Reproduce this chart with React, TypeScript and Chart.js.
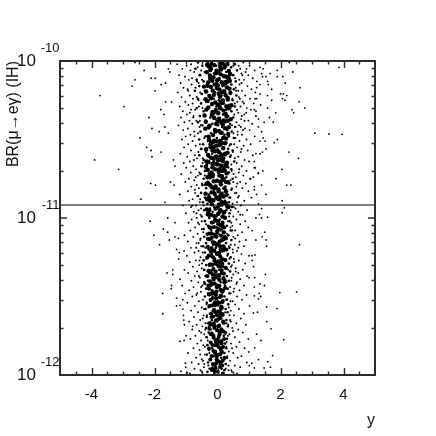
import React, { useEffect, useRef } from "react";
import { Chart, registerables } from "chart.js";

Chart.register(...registerables);

// Flat pairs: rapidity y, then decade offset d, where BR = 10^-(10 + d)
const sparseLeft = [-3.73,.22,-2.97,.29,-2.71,.16,-2.62,.12,-2.33,.06,-2.62,.01,-2.11,.11,-1.98,.11,-1.98,.19,-1.79,.15,-1.65,.14,-1.56,.05,-1.51,.07,-3.9,.63,-3.14,.69,-2.46,.49,-2.18,.36,-2.08,.43,-1.85,.45,-1.8,.31,-1.7,.34,-1.65,.26,-1.46,.26,-1.56,.46,-1.67,.42,-2.25,.55,-2.11,.57,-2.08,.61,-1.79,.58,-2.12,.78,-1.97,.79,-2.43,.88,-1.67,.9,-1.49,.77,-1.38,.79,-1.4,.63,-1.35,.67,-2.14,1.02,-1.72,1.07,-1.35,1.03,-1.58,1,-1.1,.92,-2.02,1.11,-1.84,1.17,-1.58,1.09,-1.53,1.14,-1.35,1.12,-1.24,1.13,-1.3,1.2,-1.21,1.22,-1.23,1.26,-1.06,1.21,-1.6,1.35,-1.42,1.33,-1.42,1.36,-1.05,1.33,-1.19,1.39,-1.46,1.43,-1.47,1.45,-1.74,1.48,-1.74,1.61,-1.3,1.51,-1.12,1.43,-1.03,1.48,-1.1,1.52,-1.3,1.56,-1.19,1.556,-1.1,1.58,-1.08,1.62,-1.07,1.65,-1.05,1.68,-.79,1.69,-1,1.75,-1.19,1.785,-1.06,1.78,-1.02,1.925,-1.01,1.95,-1.16,1.976,-.96,1.985];
const sparseRight = [3.86,.04,2.28,.01,2.39,.07,1.9,.06,2.07,.1,1.9,.1,2.15,.14,2.62,.17,2,.21,2.09,.21,2.2,.22,2.06,.24,2.14,.25,2.59,.26,2.77,.3,2.37,.31,2.42,.33,1.85,.33,1.59,.22,1.72,.25,1.59,.3,1.65,.36,1.77,.39,3.09,.46,3.54,.465,3.96,.467,1.9,.5,1.8,.52,2.27,.58,2.57,.62,2.05,.69,1.86,.75,1.44,.7,1.29,.715,2.2,.79,2.33,.79,1.54,.85,2.05,.89,2.12,.935,2.05,.966,1.59,.995,1.4,.94,1.4,1,1.22,1,1.33,.977,1.3,.91,1.24,.85,1.17,.82,1.17,.8,1.4,.79,1.35,.04,1.45,.05,1.4,.08,1.54,.1,1.43,.1,1.67,.08,1.59,.13,1.61,.15,1.35,.15,1.24,.17,1.72,.18,1.35,.21,1.24,.24,1.19,.24,1.37,.28,1.17,.31,1.22,.32,1.3,.37,1.48,.39,1.3,.42,1.4,.45,1.45,.49,1.35,.51,1.51,.51,1.54,.56,1.43,.58,1.22,.59,1.35,.59,1.17,.64,1.17,.68,1.3,.715,1.14,.74,1.03,.75,2.6,1.17,1.52,1.36,1,1.38,1.18,1.38,1.35,1.42,1.49,1.43,1.98,1.475,2.51,1.47,1.17,1.44,1.32,1.48,1.37,1.5,1.3,1.515,1.17,1.496,1.56,1.566,1.89,1.577,1.27,1.6,1.14,1.605,1.56,1.66,1.7,1.706,2.1,1.775,1.38,1.78,1.24,1.74,1.18,1.827,.99,1.853,1.75,1.876,1.3,1.902,1.6,1.915,1.09,1.925,1.01,1.94,1.17,1.955,1.48,1.955,1.68,1.95,1.19,1.235,1.1,1.24,1.1,1.27,1.14,1.31,1.56,1.18,1.54,1.14,1.42,1.12,1.5,1.09,1.22,1.14,1.1,1.08];
const midUpperLeft = [-1.28,.02,-1.12,.05,-.98,.03,-.86,.06,-1.22,.09,-1.03,.1,-.91,.12,-1.17,.14,-.82,.15,-1.08,.17,-.95,.18,-1.26,.2,-.88,.22,-1.14,.23,-.78,.24,-1.02,.26,-.92,.28,-1.2,.29,-.84,.31,-1.1,.32,-.97,.34,-.76,.35,-1.16,.36,-.89,.38,-1.05,.39,-.8,.4,-1.24,.41,-.94,.43,-1.09,.44,-.74,.45,-.86,.47,-1.01,.48,-1.13,.5,-.79,.51,-.93,.53,-.69,.54,-1.06,.55,-.84,.57,-1.18,.59,-.72,.6,-.96,.61,-.65,.62,-.88,.64,-1.07,.65,-.77,.67,-.99,.68,-.68,.69,-.85,.71,-1.15,.72,-.62,.73,-.91,.75,-.74,.76,-1.02,.77,-.66,.79,-.83,.8,-.59,.81,-.94,.83,-.71,.84,-1.2,.85,-.61,.86,-.79,.88,-.9,.89,-.56,.9,-.68,.92,-.84,.93,-.6,.95,-.75,.96,-1,.97,-.54,.98,-.66,1,-.82,1.01,-.92,1.03,-.58,1.04,-.71,1.06,-.5,1.07,-.86,1.08,-.63,1.1,-1.05,1.11,-.77,1.12,-.55,1.14,-.94,1.15,-.67,1.16,-.52,1.18,-.84,1.19,-.6,1.21,-.73,1.22,-.97,1.24,-.54,1.25,-.69,1.27,-.88,1.28,-.58,1.3,-.78,1.31,-.5,1.32,-.65,1.34,-.93,1.35,-.72,1.37,-.56,1.38,-.83,1.4,-.61,1.41,-.48,1.43,-.76,1.44,-.9,1.46,-.53,1.47,-.67,1.49,-.8,1.5,-.46,1.52,-.59,1.53,-.96,1.54,-.72,1.56,-.5,1.57,-.84,1.59,-.62,1.6,-.44,1.62,-.75,1.63,-.55,1.65,-.9,1.66,-.66,1.68,-.48,1.69,-.8,1.71,-.58,1.72,-.42,1.74,-.7,1.75,-.86,1.77,-.52,1.78,-.64,1.8,-.45,1.81,-.76,1.83,-.57,1.84,-.94,1.86,-.4,1.87,-.68,1.89,-.5,1.9,-.82,1.92,-.6,1.93,-.43,1.95,-.73,1.96,-.54,1.97,-.88,1.99];
const midUpperRight = [.82,.01,1.02,.03,.92,.05,1.18,.06,.76,.08,.98,.09,1.12,.11,.84,.12,1.25,.13,.7,.15,.95,.16,1.08,.18,.78,.19,1.2,.2,.88,.22,.68,.23,1.03,.24,.8,.26,1.15,.27,.73,.29,.93,.3,1.06,.31,.66,.33,.85,.34,1.22,.35,.75,.37,.98,.38,1.1,.4,.69,.41,.87,.43,1.02,.44,.64,.45,.78,.47,1.18,.48,.92,.5,.7,.51,1.05,.53,.83,.54,.62,.55,.96,.57,.74,.58,1.12,.6,.66,.61,.86,.63,1,.64,.61,.65,.77,.67,1.2,.68,.92,.7,.68,.71,.82,.73,.58,.74,1.05,.75,.72,.77,.9,.78,.6,.8,.79,.81,.98,.83,.55,.84,.68,.86,1.08,.87,.85,.89,.62,.9,.74,.92,.52,.93,.94,.95,.66,.96,.8,.98,.5,.99,.6,1.01,.88,1.02,.72,1.04,.47,1.05,.98,1.06,.56,1.08,.78,1.09,.64,1.11,.5,1.12,.9,1.14,.7,1.15,.55,1.17,.84,1.18,.48,1.2,.62,1.21,.76,1.23,1,1.24,.52,1.26,.68,1.27,.88,1.29,.46,1.3,.58,1.32,.8,1.33,.66,1.35,.5,1.36,.94,1.37,.72,1.39,.44,1.4,.6,1.42,.84,1.43,.53,1.45,.7,1.46,.42,1.48,.92,1.49,.62,1.5,.78,1.52,.48,1.53,.56,1.55,1.02,1.56,.68,1.58,.42,1.59,.84,1.61,.52,1.62,.74,1.64,.4,1.65,.6,1.67,.9,1.68,.47,1.7,.66,1.71,.8,1.73,.38,1.74,.55,1.76,.98,1.77,.7,1.79,.43,1.8,.6,1.82,.86,1.83,.36,1.85,.5,1.86,.76,1.88,.64,1.89,.4,1.91,.93,1.92,.55,1.94,.72,1.95,.35,1.97,.46,1.98,.62,1.99];
const midExtra = [-.74,.07,-.66,.23,-.81,.11,-.59,.29,-.77,.36,-.63,.04,-.7,.17,-.88,.33,-.57,.42,-.73,.48,-.6,.14,-.84,.02,-.67,.38,-.79,.27,-.55,.2,-.62,.46,-.71,.31,-.58,.09,-.93,.19,-.65,.13,.72,.05,.66,.19,.79,.09,.62,.31,.74,.42,.69,.12,.84,.27,.6,.39,.77,.35,.64,.47,.71,.24,.89,.07,.58,.17,.67,.03,.81,.44,.63,.26,.91,.33,.57,.49,.76,.14,.86,.38,-.61,.58,-.53,.67,-.69,.74,-.56,.53,-.75,.63,-.49,.78,-.64,.86,-.52,.94,-.58,.71,-.8,.92,-.47,.62,-.67,.97,-.5,.56,-.72,.82,-.55,.88,.55,.62,.51,.72,.63,.78,.49,.58,.69,.69,.57,.94,.46,.81,.65,.87,.53,.53,.72,.98,.48,.91,.6,.84,.44,.66,.76,.56,.5,.77,-.54,1.13,-.47,1.22,-.62,1.03,-.49,1.29,-.59,1.37,-.45,1.09,-.68,1.19,-.52,1.44,-.44,1.33,-.57,1.27,-.42,1.42,-.64,1.48,-.5,1.02,-.6,1.16,.47,1.08,.42,1.17,.53,1.28,.44,1.03,.58,1.34,.4,1.44,.49,1.22,.56,1.13,.43,1.31,.62,1.41,.38,1.26,.51,1.47,.45,1.38,.66,1.19,.41,1.06,-.43,1.58,-.38,1.67,-.52,1.73,-.4,1.82,-.47,1.64,-.36,1.76,-.55,1.87,-.42,1.93,-.35,1.55,-.5,1.98,-.39,1.71,-.46,1.91,.36,1.57,.42,1.66,.33,1.75,.46,1.83,.38,1.62,.31,1.88,.49,1.72,.35,1.94,.41,1.53,.29,1.79,.44,1.97,.34,1.68];
const fringe = [-.52,.06,-.46,.16,-.6,.25,-.44,.34,-.53,.41,-.49,.12,.5,.03,.56,.11,.47,.24,.53,.34,.46,.41,.59,.19,-.42,.49,-.39,.57,-.47,.65,-.4,.73,-.37,.84,-.44,.92,.38,.54,.43,.6,.35,.68,.41,.76,.37,.87,.42,.95,-.36,1.04,-.33,1.11,-.39,1.19,-.35,1.26,-.32,1.34,-.38,1.42,.33,1.02,.3,1.1,.36,1.18,.31,1.24,.34,1.33,.29,1.41,-.31,1.49,-.29,1.57,-.34,1.62,-.28,1.69,-.31,1.78,-.26,1.86,.27,1.52,.24,1.6,.29,1.67,.25,1.74,.28,1.82,.23,1.9,-.29,1.94,.26,1.96,-.33,1.13,.37,.99,-.41,.79,.45,.7,-.48,.3,.51,.46,-.56,.38,.55,.27];
const coreUpper = [-.62,.01,-.31,.01,.12,.02,.55,.02,-.05,.03,.34,.01,-.48,.03,.22,.04,-.18,.05,.43,.04,.03,.06,-.7,.05,.62,.06,-.4,.07,.28,.07,-.11,.08,.15,.09,-.55,.09,.5,.09,-.26,.1,.37,.11,.06,.11,-.66,.12,-.14,.12,.24,.13,-.44,.13,.58,.13,-.02,.14,.44,.15,-.33,.15,.16,.16,-.58,.16,.32,.17,-.2,.17,.07,.18,.52,.18,-.72,.19,-.4,.19,.24,.2,-.08,.2,.41,.21,-.5,.21,.13,.22,-.27,.22,.6,.22,-.62,.24,.3,.24,-.12,.24,.04,.25,.48,.25,-.36,.26,.2,.27,-.52,.27,-.19,.28,.37,.28,-.04,.29,.55,.29,.12,.3,-.66,.3,-.3,.3,.27,.31,-.44,.32,.44,.32,.05,.33,-.14,.33,.18,.34,-.56,.35,.34,.35,-.23,.36,.5,.36,-.06,.37,.1,.38,-.38,.38,.25,.39,-.62,.39,.4,.4,-.16,.4,.02,.41,-.48,.41,.15,.42,.56,.42,-.29,.43,.31,.44,-.09,.44,-.54,.45,.45,.45,.08,.46,-.2,.46,.22,.47,-.38,.48,.36,.48,-.02,.49,.52,.49,-.58,.5,.14,.5,-.3,.51,.28,.52,-.12,.52,.42,.53,-.46,.53,.04,.54,-.24,.55,.2,.55,-.52,.56,.34,.56,-.07,.57,.48,.57,-.36,.58,.11,.59,-.17,.59,.26,.6,-.58,.6,.4,.61,-.28,.61,.01,.62,-.44,.63,.17,.63,.53,.64,-.12,.64,.32,.65,-.34,.66,.07,.66,-.5,.67,.24,.67,-.2,.68,.44,.69,-.03,.69,-.4,.7,.14,.7,.36,.71,-.26,.72,-.54,.72,.05,.73,.28,.74,-.14,.74,.48,.75,-.44,.75,.19,.76,-.31,.77,-.06,.77,.38,.78,.1,.79,-.48,.79,-.22,.8,.25,.8,-.36,.81,.44,.82,.01,.82,-.12,.83,.16,.84,-.52,.84,.32,.85,-.28,.85,-.04,.86,.4,.87,-.4,.87,.09,.88,-.18,.88,.24,.89,-.46,.9,.36,.9,.02,.91,-.32,.91,.15,.92,-.1,.93,.46,.93,-.24,.94,.28,.95,-.42,.95,.06,.96,-.15,.96,.38,.97,-.34,.98,.18,.98,-.03,.99,-.5,.99];
const coreLower = [.24,1,-.26,1,.07,1.01,.38,1.02,-.4,1.02,-.12,1.03,.15,1.04,-.3,1.05,.3,1.05,-.02,1.06,-.44,1.07,.1,1.07,.42,1.08,-.2,1.08,.22,1.09,-.34,1.1,.03,1.1,.34,1.11,-.1,1.12,-.42,1.12,.16,1.13,-.24,1.14,.44,1.14,.06,1.15,-.36,1.16,.27,1.16,-.14,1.17,.12,1.18,-.46,1.18,.38,1.19,-.05,1.19,-.28,1.2,.2,1.21,.01,1.22,-.4,1.22,.33,1.23,-.18,1.23,.09,1.24,.42,1.25,-.32,1.25,-.08,1.26,.24,1.27,-.44,1.27,.14,1.28,-.22,1.29,.36,1.29,-.01,1.3,-.36,1.3,.18,1.31,-.13,1.32,.28,1.32,-.42,1.33,.05,1.33,.4,1.34,-.26,1.35,.12,1.35,-.06,1.36,.3,1.37,-.38,1.37,.2,1.38,-.16,1.38,.02,1.39,-.3,1.4,.36,1.4,.1,1.41,-.42,1.41,-.1,1.42,.24,1.43,-.24,1.43,.03,1.44,.32,1.45,-.36,1.45,.15,1.46,-.17,1.46,-.03,1.47,.38,1.48,-.3,1.48,.08,1.49,.22,1.5,-.4,1.5,-.12,1.51,.3,1.52,-.22,1.52,.01,1.53,-.34,1.54,.16,1.54,.34,1.55,-.07,1.56,-.28,1.56,.1,1.57,.26,1.58,-.38,1.58,-.15,1.59,.04,1.6,.32,1.6,-.24,1.61,.18,1.62,-.05,1.62,-.34,1.63,.12,1.64,.28,1.65,-.18,1.65,-.01,1.66,-.3,1.67,.22,1.67,.06,1.68,-.12,1.69,.33,1.69,-.36,1.7,.15,1.71,-.22,1.71,-.03,1.72,.27,1.73,-.28,1.73,.09,1.74,-.14,1.75,.2,1.75,-.34,1.76,.02,1.77,.3,1.77,-.08,1.78,-.24,1.79,.13,1.79,.24,1.8,-.32,1.81,-.01,1.81,.06,1.82,-.17,1.83,.28,1.83,-.27,1.84,.16,1.85,-.05,1.85,.22,1.86,-.34,1.87,.03,1.87,-.12,1.88,.11,1.89,.3,1.89,-.22,1.9,-.02,1.91,.18,1.91,-.3,1.92,.07,1.93,.26,1.93,-.14,1.94,-.06,1.95,.13,1.96,-.25,1.96,.22,1.97,.01,1.98,-.32,1.98,-.1,1.99,.16,1.99];
const denseTop = [.09,.037,-.23,.113,.31,.021,-.07,.264,.18,.152,-.34,.071,.02,.333,.26,.218,-.15,.189,.39,.127,-.29,.296,.11,.054,-.02,.172,.33,.381,-.19,.018,.21,.097,-.38,.243,.05,.446,-.11,.361,.28,.288,.14,.135,-.25,.412,.36,.063,-.06,.079,.19,.316,-.32,.158,.08,.228,-.17,.274,.41,.203,.24,.428,-.01,.122,-.41,.347,.12,.392,-.22,.045,.3,.169,.04,.209,-.13,.103,.37,.301,-.28,.482,.17,.251,-.08,.439,.23,.029,.01,.276,-.36,.194,.29,.354,-.2,.238,.1,.085,-.04,.401,.34,.465,-.16,.325,.16,.011,-.3,.137,.06,.182,.42,.371,-.24,.092,.25,.142,-.1,.026,.13,.457,-.35,.309,.03,.117,.32,.234,-.12,.216,.2,.378,-.27,.419,.07,.293,-.03,.061,.38,.177,-.18,.342,.15,.199,-.33,.024,.27,.494,.0,.386,-.21,.166,.35,.108,.11,.259,-.09,.149,-.39,.431,.22,.041,.44,.282,-.26,.223,.05,.367,.31,.131,-.14,.472,.17,.405,-.05,.312,.4,.083,-.31,.255,.09,.011,.26,.337,-.23,.058,.01,.154,.36,.422,-.17,.126,.14,.268,-.43,.163,.21,.193,-.07,.449,.33,.246,-.37,.387,.03,.073,.19,.488,-.12,.329,.29,.1,-.28,.033,.08,.302];
const denseUpperMid = [-.03,.512,.17,.637,-.22,.548,.09,.771,-.31,.693,.24,.524,-.09,.846,.05,.581,-.18,.912,.29,.716,-.27,.503,.13,.898,-.01,.659,-.35,.782,.21,.963,-.12,.622,.07,.535,.27,.829,-.24,.741,.02,.974,-.16,.569,.19,.681,-.06,.799,-.33,.881,.11,.604,.31,.926,-.2,.518,.04,.707,-.29,.643,.15,.758,-.1,.987,.25,.591,-.37,.674,.08,.861,-.14,.725,-.02,.539,.22,.811,-.26,.952,.12,.667,-.07,.613,.33,.772,-.19,.837,.01,.935,.18,.556,-.3,.599,.06,.689,-.11,.507,.26,.906,-.23,.791,.14,.733,-.04,.871,-.34,.945,.1,.528,.3,.648,-.15,.678,.03,.818,-.28,.979,.2,.751,-.08,.575,.16,.991,-.21,.616,-.01,.762,.28,.853,-.36,.562,.09,.629,-.13,.888,.23,.697,-.25,.72,.05,.917,-.05,.655,.13,.521,.32,.585,-.17,.805,-.32,.74,.07,.961,.19,.864,-.09,.545,-.27,.868,.02,.632,.24,.998,-.19,.71,.11,.785,-.03,.608,-.38,.845,.17,.902,-.12,.766,.29,.669,-.22,.532,.04,.83,-.06,.94,.21,.595,.15,.7,-.3,.97,-.16,.655,.08,.51,-.1,.81,.27,.77,-.24,.89,.0,.57,.12,.85,-.35,.64,.35,.93,-.2,.98,.06,.73,-.07,.69,.18,.62,-.29,.78,.03,.88,-.14,.55,.25,.66,.1,.95];
const denseLowerMid = [-.05,1.017,.13,1.142,-.22,1.063,.08,1.284,-.14,1.206,.2,1.091,-.28,1.337,.02,1.038,-.09,1.418,.17,1.263,-.19,1.127,.05,1.371,-.31,1.184,.24,1.446,-.02,1.229,-.16,1.482,.11,1.074,-.25,1.299,.14,1.352,-.07,1.106,.21,1.193,-.12,1.391,.0,1.167,-.29,1.431,.09,1.246,-.18,1.029,.26,1.318,-.03,1.469,.16,1.051,-.21,1.214,.06,1.433,-.1,1.272,.19,1.385,-.27,1.099,.03,1.306,-.15,1.153,.12,1.497,-.06,1.342,.23,1.12,-.24,1.403,.07,1.178,-.33,1.253,.15,1.292,-.01,1.084,-.13,1.326,.1,1.458,-.2,1.239,.28,1.201,-.08,1.011,.04,1.363,-.17,1.418,.18,1.137,-.26,1.488,.01,1.276,-.11,1.058,.22,1.41,-.04,1.171,.13,1.333,-.23,1.347,.08,1.045,-.3,1.133,.17,1.463,-.16,1.298,.05,1.222,-.07,1.377,.25,1.268,-.19,1.191,.11,1.112,-.02,1.441,-.28,1.24,.2,1.354,-.12,1.476,.02,1.021,-.21,1.427,.14,1.208,-.09,1.158,.06,1.395,-.25,1.06,.27,1.13,-.14,1.25,.09,1.31,-.05,1.49,.19,1.18,-.32,1.37,.0,1.43,-.18,1.1,.12,1.27,.03,1.07,-.1,1.21,.23,1.4,-.22,1.34,.16,1.03,-.06,1.29,-.27,1.45,.07,1.15,.15,1.47,-.15,1.36,.1,1.2,-.03,1.12,-.2,1.48,.21,1.06,.04,1.23];
const denseBottom = [-.04,1.513,.1,1.621,-.17,1.558,.06,1.742,-.1,1.684,.15,1.534,-.21,1.795,.01,1.596,-.07,1.861,.12,1.709,-.14,1.627,.03,1.912,-.24,1.668,.18,1.822,-.02,1.544,-.12,1.763,.08,1.948,-.19,1.879,.14,1.572,-.05,1.651,.2,1.724,-.09,1.975,.0,1.806,-.22,1.523,.11,1.841,-.15,1.93,.05,1.688,-.03,1.775,.16,1.612,-.26,1.706,.07,1.505,-.11,1.584,.22,1.89,-.18,1.736,.02,1.645,-.06,1.956,.13,1.783,-.2,1.609,.09,1.868,-.13,1.847,-.01,1.713,.17,1.991,-.08,1.537,.04,1.758,-.23,1.902,.19,1.667,-.16,1.809,.12,1.564,-.04,1.924,.07,1.639,-.27,1.832,.0,1.552,-.1,1.7,.14,1.853,-.18,1.968,.05,1.787,.1,1.921,-.07,1.601,-.21,1.74,.17,1.529,-.12,1.67,.03,1.82,-.02,1.88,.21,1.77,-.15,1.51,.08,1.6,-.05,1.79,.15,1.94,-.24,1.56,.01,1.98,-.09,1.85,.12,1.72,-.19,1.63,.06,1.54,-.03,1.9,.18,1.66,-.13,1.75,.02,1.69,-.08,1.81,.11,1.58,-.17,1.96,.04,1.87,-.22,1.68,.09,1.83,-.01,1.62,.16,1.91,-.11,1.55,.07,1.73,-.06,1.93,.13,1.8];
const referenceLine = [.917, .917];
const lineYs = [-5, 5];

const xMajor = [-4, -2, 0, 2, 4];
const decadeExponents = [10, 11, 12];
const decadeMinor = [2, 3, 4, 5, 6, 7, 8, 9];

const toPoints = (flat: number[]) => {
  const pts: { x: number; y: number }[] = [];
  for (let i = 0; i < flat.length; i += 2) pts.push({ x: flat[i], y: Math.pow(10, -(10 + flat[i + 1])) });
  return pts;
};

const FONT = '"Liberation Sans", Arial, sans-serif';
const INK = "#2b2b2b";

const frameAndTicks = {
  id: "frameAndTicks",
  afterDatasetsDraw(chart: any) {
    const { ctx, chartArea: a, scales } = chart;
    const xs = scales.x, ys = scales.y;
    ctx.save();
    ctx.strokeStyle = INK;
    ctx.lineWidth = 1.4;
    ctx.beginPath();
    for (let t = -4.5; t < 5; t += 0.5) {
      const p = Math.round(xs.getPixelForValue(t)) + 0.5;
      const l = xMajor.includes(t) ? 7 : 3.5;
      ctx.moveTo(p, a.bottom); ctx.lineTo(p, a.bottom - l);
      ctx.moveTo(p, a.top); ctx.lineTo(p, a.top + l);
    }
    decadeExponents.forEach((e, i) => {
      const p = ys.getPixelForValue(Math.pow(10, -e));
      if (i > 0 && i < 2) {
        ctx.moveTo(a.left, p); ctx.lineTo(a.left + 7, p);
        ctx.moveTo(a.right, p); ctx.lineTo(a.right - 7, p);
      }
      if (e < 12) decadeMinor.forEach((m) => {
        const q = Math.round(ys.getPixelForValue(m * Math.pow(10, -e - 1))) + 0.5;
        ctx.moveTo(a.left, q); ctx.lineTo(a.left + 3.5, q);
        ctx.moveTo(a.right, q); ctx.lineTo(a.right - 3.5, q);
      });
    });
    ctx.stroke();
    ctx.lineWidth = 2;
    ctx.strokeRect(a.left, a.top, a.right - a.left, a.bottom - a.top);
    ctx.fillStyle = "#111";
    ctx.font = `13px ${FONT}`;
    ctx.textAlign = "right";
    ctx.textBaseline = "middle";
    decadeExponents.forEach((e) => {
      ctx.fillText(`-${e}`, a.left - 0.5, ys.getPixelForValue(Math.pow(10, -e)) - 12.5);
    });
    ctx.restore();
  },
};

const dots = (flat: number[], r: number) => ({ data: toPoints(flat), pointRadius: r, backgroundColor: "#000", borderWidth: 0 });

export default function App() {
  const ref = useRef<HTMLCanvasElement>(null);
  useEffect(() => {
    const chart = new Chart(ref.current!, {
      type: "scatter",
      data: {
        datasets: [
          dots(denseTop, 2.2),
          dots(denseUpperMid, 2.2),
          dots(denseLowerMid, 2.1),
          dots(denseBottom, 2),
          dots(coreLower, 1.3),
          dots(coreUpper, 1.3),
          dots(fringe, 1),
          dots(midExtra, 1),
          dots(midUpperLeft, 0.95),
          dots(midUpperRight, 0.95),
          dots(sparseLeft, 0.9),
          dots(sparseRight, 0.9),
          {
            type: "line",
            data: lineYs.map((x, i) => ({ x, y: Math.pow(10, -(10 + referenceLine[i])) })),
            borderColor: "#555",
            borderWidth: 1.6,
            pointRadius: 0,
          } as any,
        ],
      },
      options: {
        responsive: false,
        animation: false,
        events: [],
        layout: { padding: { top: 61, right: 61, left: 0, bottom: 0 } },
        plugins: { legend: { display: false }, tooltip: { enabled: false }, title: { display: false } },
        scales: {
          x: {
            type: "linear",
            min: -5,
            max: 5,
            afterFit: (s: any) => { s.height = 61; },
            afterBuildTicks: (s: any) => { s.ticks = xMajor.map((value) => ({ value })); },
            grid: { display: false },
            border: { display: false },
            ticks: {
              autoSkip: false, maxRotation: 0, color: "#111", padding: 3,
              font: { family: FONT, size: 15 },
              callback: (v: any) => String(v),
            },
            title: { display: true, text: "y", align: "end", color: "#111", font: { family: FONT, size: 16 }, padding: { top: 0, bottom: 6 } },
          },
          y: {
            type: "logarithmic",
            min: 1e-12,
            max: 1e-10,
            afterFit: (s: any) => { s.width = 60; },
            afterBuildTicks: (s: any) => { s.ticks = decadeExponents.map((e) => ({ value: Math.pow(10, -e), major: true })); },
            grid: { display: false },
            border: { display: false },
            ticks: {
              autoSkip: false, color: "#111", padding: 16,
              font: { family: FONT, size: 17 },
              callback: () => "10",
            },
            title: { display: true, text: "BR(μ→eγ) (IH)", align: "end", color: "#111", font: { family: FONT, size: 16 }, padding: { top: 4, bottom: 0 } },
          },
        },
      } as any,
      plugins: [frameAndTicks],
    } as any);
    return () => chart.destroy();
  }, []);
  return <canvas ref={ref} width={436} height={436} style={{ position: "fixed", left: 0, top: 0, width: 436, height: 436 }} />;
}
